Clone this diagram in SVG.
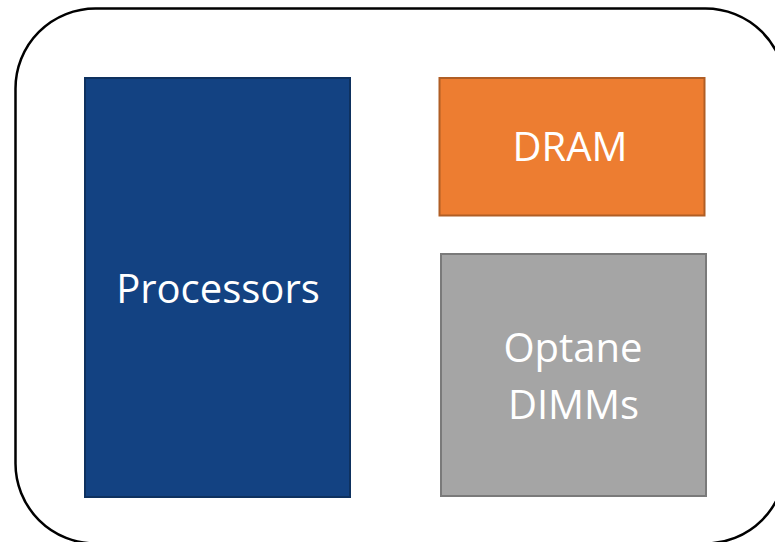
<svg xmlns="http://www.w3.org/2000/svg" width="775" height="542" viewBox="0 0 775 542">
<style>
.lbl{font-family:"Open Sans","Liberation Sans",sans-serif;font-size:40px;fill:#ffffff;text-anchor:middle}
</style>
<rect x="0" y="0" width="775" height="542" fill="#ffffff"/>
<g id="board"><rect x="15.5" y="8.5" width="770" height="535" rx="80" ry="80" fill="none" stroke="#000000" stroke-width="2.5"/></g>
<g id="processors">
<rect x="85" y="78" width="265" height="419" fill="#134282" stroke="#0e315f" stroke-width="2"/>
<text class="lbl" x="218" y="303">Processors</text>
</g>
<g id="dram">
<rect x="439.5" y="78" width="265" height="137.5" fill="#ed7d31" stroke="#b05e25" stroke-width="2"/>
<text class="lbl" x="570" y="161">DRAM</text>
</g>
<g id="optane">
<rect x="441" y="254" width="265" height="242" fill="#a5a5a5" stroke="#7a7a7a" stroke-width="2"/>
<text class="lbl" x="573" y="362">Optane</text>
<text class="lbl" x="573.5" y="419">DIMMs</text>
</g>
<g id="connectors"></g>
</svg>
